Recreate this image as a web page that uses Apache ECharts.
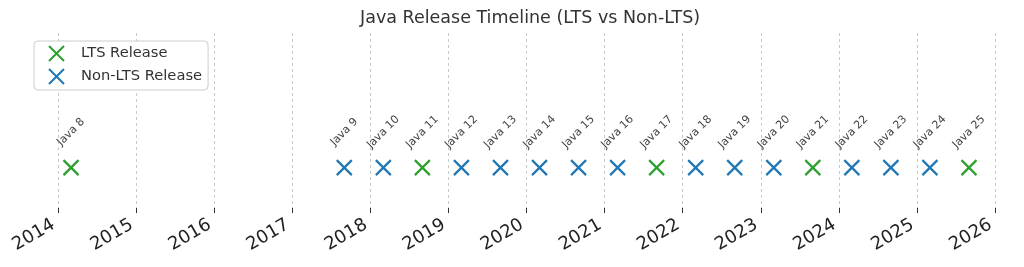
<!DOCTYPE html>
<html>
<head>
<meta charset="utf-8">
<script src="https://cdn.jsdelivr.net/npm/echarts@6/dist/echarts.min.js"></script>
<style>
html,body{margin:0;padding:0;background:#fff;}
#chart{width:1024px;height:267px;}
</style>
</head>
<body>
<div id="chart"></div>
<script>
// Data
const versions = ['Java 8','Java 9','Java 10','Java 11','Java 12','Java 13','Java 14','Java 15','Java 16','Java 17','Java 18','Java 19','Java 20','Java 21','Java 22','Java 23','Java 24','Java 25'];
const releaseMonths = ['2014-03','2017-09','2018-03','2018-09','2019-03','2019-09','2020-03','2020-09','2021-03','2021-09','2022-03','2022-09','2023-03','2023-09','2024-03','2024-09','2025-03','2025-09'];
const ltsVersions = ['Java 8','Java 11','Java 17','Java 21','Java 25'];
const yearMin = 2014;
const yearMax = 2026;
const yLevel = 1;

function toYear(s){ const p = s.split('-'); return +p[0] + (+p[1]-1)/12; }

const ltsData = [], nonLtsData = [];
versions.forEach((v,i)=>{
  const item = {name:v, value:[toYear(releaseMonths[i]), yLevel]};
  (ltsVersions.includes(v) ? ltsData : nonLtsData).push(item);
});

const FONT = 'DejaVu Sans';
const XPATH = 'path://M0,0L10,10M10,0L0,10';

function mkSeries(name, color, data){
  return {
    name, type:'scatter', data,
    symbol: XPATH, symbolSize: 15,
    itemStyle:{color:color, borderColor:color, borderWidth:2.2, opacity:1},
    label:{show:true, formatter:'{b}', position:'top', distance:27, rotate:45,
      align:'center', verticalAlign:'middle',
      fontFamily:FONT, fontSize:11, color:'#444'},
    emphasis:{disabled:true}
  };
}

const chart = echarts.init(document.getElementById('chart'));
chart.setOption({
  animation:false,
  backgroundColor:'#fff',
  title:{text:'Java Release Timeline (LTS vs Non-LTS)', left:355, top:4,
    textStyle:{fontFamily:FONT, fontSize:17.5, fontWeight:'normal', color:'#333'}},
  legend:{
    orient:'vertical', left:34, top:41,
    padding:[4,6,5,14], itemGap:6, itemWidth:15, itemHeight:15,
    borderColor:'#ccc', borderWidth:1, borderRadius:4, backgroundColor:'#fff',
    formatter: n => '{t|' + n + '}',
    textStyle:{fontFamily:FONT, fontSize:14.7, color:'#333',
      rich:{t:{fontFamily:FONT, fontSize:14.7, color:'#333', padding:[0,0,0,12]}}},
    data:['LTS Release','Non-LTS Release']
  },
  grid:{left:58, right:29, top:33, bottom:59},
  xAxis:{
    type:'value', min:yearMin, max:yearMax, interval:1,
    axisLine:{show:false},
    axisTick:{show:true, length:5, lineStyle:{color:'#333', width:1}},
    axisLabel:{rotate:30, margin:13, padding:[0,5,0,0], fontFamily:FONT, fontSize:18, color:'#222',
      formatter:v=>String(Math.round(v))},
    splitLine:{show:true, lineStyle:{color:'#c8c8c8', width:1, type:[3,3]}}
  },
  yAxis:{type:'value', show:false, min:0.7, max:2.0},
  series:[
    mkSeries('LTS Release', '#2ca02c', ltsData),
    mkSeries('Non-LTS Release', '#1f77b4', nonLtsData)
  ]
});
</script>
</body>
</html>
